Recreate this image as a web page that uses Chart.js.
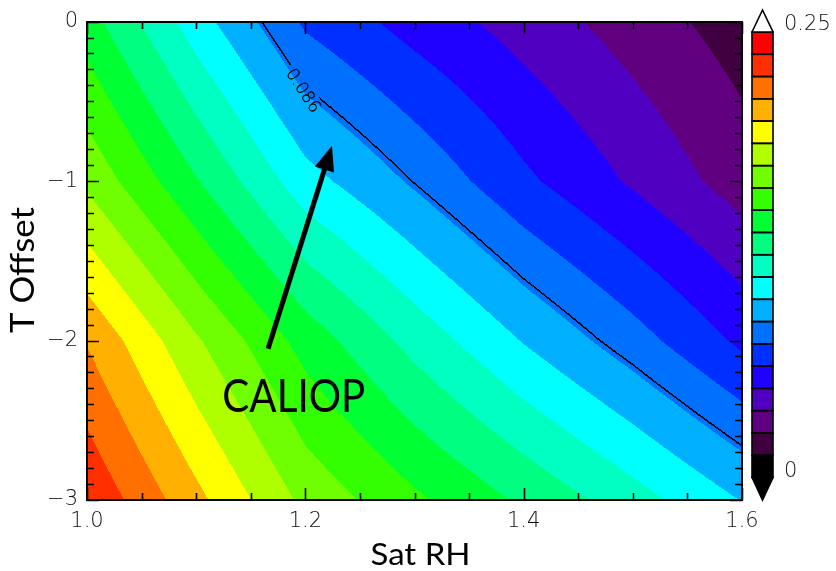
<!DOCTYPE html>
<html><head><meta charset="utf-8">
<script src="https://cdn.jsdelivr.net/npm/chart.js@4/dist/chart.umd.min.js"></script>
<style>html,body{margin:0;padding:0;background:#fff;}#wrap{width:836px;height:571px;}</style>
</head><body><div id="wrap"><canvas id="c" width="836" height="571"></canvas></div>
<script>
// ---- data ----
const satRH   = [1.0, 1.1, 1.2, 1.3, 1.4, 1.5, 1.6];          // x grid
const tOffset = [0, -1, -2, -3];                                // y grid
const rowT0   = [0.143, 0.1058, 0.0729, 0.0573, 0.0445, 0.0317, 0.0189];
const rowT1   = [0.1723, 0.1385, 0.1048, 0.0855, 0.0651, 0.0482, 0.0314];
const rowT2   = [0.2115, 0.1767, 0.1449, 0.1205, 0.0992, 0.0803, 0.0598];
const rowT3   = [0.236, 0.2036, 0.1717, 0.1525, 0.1353, 0.1179, 0.0995];
const fieldRows = [rowT0, rowT1, rowT2, rowT3];
const levels = [0, 0.0125, 0.025, 0.0375, 0.05, 0.0625, 0.075, 0.0875, 0.1, 0.1125, 0.125,
                0.1375, 0.15, 0.1625, 0.175, 0.1875, 0.2, 0.2125, 0.225, 0.2375, 0.25];
const bandColors = ['#000000','#400040','#600080','#5000c0','#2000ff','#0030ff','#0070ff','#00b0ff',
                    '#00ffff','#00ffc0','#00ff80','#00ff33','#33ff00','#70ff00','#b0ff00','#ffff00',
                    '#ffb000','#ff7000','#ff3000','#ff0000'];
const contourLevel = 0.086;
const contourLabel = '0.086';
const contourLabelPos = [1.1974, -0.4347];
const xTickLabels = [1.0, 1.2, 1.4, 1.6];
const yTickLabels = [0, -1, -2, -3];
const annotationText = 'CALIOP';
const arrowFrom = [1.1659, -2.051];
const arrowTo   = [1.2244, -0.778];
const textPos   = [1.1895, -2.45];

function hex(c){return [parseInt(c.slice(1,3),16),parseInt(c.slice(3,5),16),parseInt(c.slice(5,7),16)];}
const bandRGB = bandColors.map(hex);

function interp(xv, yv){
  let i = 0; while (i < satRH.length-2 && xv > satRH[i+1]) i++;
  let j = 0; while (j < tOffset.length-2 && yv < tOffset[j+1]) j++;
  const tx = (xv - satRH[i])/(satRH[i+1]-satRH[i]);
  const ty = (tOffset[j]-yv)/(tOffset[j]-tOffset[j+1]);
  const a = fieldRows[j], b = fieldRows[j+1];
  const top = a[i]*(1-tx)+a[i+1]*tx, bot = b[i]*(1-tx)+b[i+1]*tx;
  return top*(1-ty)+bot*ty;
}
function bandOf(v){
  if (v < levels[0]) return -1;
  if (v >= levels[levels.length-1]) return 99;
  let k = 0; while (k < levels.length-2 && v >= levels[k+1]) k++;
  return k;
}

const labelAngle = Math.atan2(93, 61);

const fieldPlugin = {
  id: 'field',
  beforeDatasetsDraw(chart){
    const {ctx, chartArea:a, scales:{x, y}} = chart;
    const L = Math.round(a.left), T = Math.round(a.top), R = Math.round(a.right), B = Math.round(a.bottom);
    const w = R-L, h = B-T;
    const vals = new Float32Array(w*h);
    for (let j=0;j<h;j++){
      const yv = y.getValueForPixel(T+j+0.5);
      for (let i=0;i<w;i++){ vals[j*w+i] = interp(x.getValueForPixel(L+i+0.5), yv); }
    }
    const img = ctx.createImageData(w, h);
    const lx = x.getPixelForValue(contourLabelPos[0]), ly = y.getPixelForValue(contourLabelPos[1]);
    const ca = Math.cos(labelAngle), sa = Math.sin(labelAngle);
    const side = v => v >= contourLevel;
    for (let j=0;j<h;j++){
      for (let i=0;i<w;i++){
        const idx = j*w+i, v = vals[idx];
        const k = bandOf(v);
        let rgb = k < 0 ? [0,0,0] : (k > 50 ? [255,255,255] : bandRGB[k]);
        const c = side(v);
        let cross = 0;
        if (i+1 < w && side(vals[idx+1]) !== c) cross = 2;
        if (j+1 < h && side(vals[idx+w]) !== c) cross = 2;
        if (!cross && ((i > 0 && side(vals[idx-1]) !== c) || (j > 0 && side(vals[idx-w]) !== c))) cross = 1;
        if (cross){
          const dx = L+i-lx, dy = T+j-ly;
          const u = dx*ca + dy*sa, vv = -dx*sa + dy*ca;
          if (!(Math.abs(u) < 29 && Math.abs(vv) < 10)) {
            rgb = cross === 2 ? [0,0,0] : rgb.map(q => Math.round(q*0.45));
          }
        }
        img.data[idx*4]=rgb[0]; img.data[idx*4+1]=rgb[1]; img.data[idx*4+2]=rgb[2]; img.data[idx*4+3]=255;
      }
    }
    ctx.putImageData(img, L, T);
  },
  afterDraw(chart){
    const {ctx, chartArea:a, scales:{x, y}} = chart;
    const L = Math.round(a.left), T = Math.round(a.top), R = Math.round(a.right), B = Math.round(a.bottom);
    ctx.save();
    // frame
    ctx.strokeStyle = '#000'; ctx.lineWidth = 2;
    ctx.strokeRect(L, T, R-L, B-T);
    // ticks
    ctx.lineWidth = 1.6;
    ctx.beginPath();
    for (let k=0;k<=12;k++){
      const v = 1.0 + k*0.05, px = Math.round(x.getPixelForValue(v))+0.5;
      const len = (k%4===0) ? 12 : 7;
      ctx.moveTo(px, B); ctx.lineTo(px, B-len);
      ctx.moveTo(px, T); ctx.lineTo(px, T+len);
    }
    for (let k=0;k<=30;k++){
      const v = -k/10, py = Math.round(y.getPixelForValue(v))+0.5;
      const len = (k%10===0) ? 12 : 7;
      ctx.moveTo(L, py); ctx.lineTo(L+len, py);
      ctx.moveTo(R, py); ctx.lineTo(R-len, py);
    }
    ctx.stroke();
    // contour label
    ctx.save();
    ctx.translate(x.getPixelForValue(contourLabelPos[0]), y.getPixelForValue(contourLabelPos[1]));
    ctx.rotate(labelAngle);
    ctx.font = '200 17px "DejaVu Sans"'; ctx.fillStyle = '#000';
    ctx.textAlign = 'center'; ctx.textBaseline = 'middle';
    ctx.fillText(contourLabel, 0, 0);
    ctx.fillText(contourLabel, 0.3, 0);
    ctx.restore();
    // arrow
    const x0 = x.getPixelForValue(arrowFrom[0]), y0 = y.getPixelForValue(arrowFrom[1]);
    const x1 = x.getPixelForValue(arrowTo[0]), y1 = y.getPixelForValue(arrowTo[1]);
    const ang = Math.atan2(y1-y0, x1-x0), hl = 25, hw = 10;
    const bx = x1 - hl*Math.cos(ang), by = y1 - hl*Math.sin(ang);
    ctx.strokeStyle = '#000'; ctx.lineWidth = 5; ctx.lineCap = 'butt';
    ctx.beginPath(); ctx.moveTo(x0, y0); ctx.lineTo(bx+2*Math.cos(ang), by+2*Math.sin(ang)); ctx.stroke();
    ctx.fillStyle = '#000';
    ctx.beginPath(); ctx.moveTo(x1, y1);
    ctx.lineTo(bx + hw*Math.sin(ang), by - hw*Math.cos(ang));
    ctx.lineTo(bx - hw*Math.sin(ang), by + hw*Math.cos(ang));
    ctx.closePath(); ctx.fill();
    // annotation text
    fitText(ctx, annotationText, x.getPixelForValue(textPos[0]), y.getPixelForValue(textPos[1]), '46px Lato', 143, 0);
    // axis titles
    fitText(ctx, 'Sat RH', (L+R)/2 + 6, 565, '31px Lato', 100, 0);
    fitText(ctx, 'T Offset', 34, 270, '33px Lato', 126, -Math.PI/2);
    // colorbar
    const cbL = 752, cbR = 773, cbTop = 32, cbBot = 477.5;
    const cy = v => cbBot - (v - levels[0])/(levels[levels.length-1]-levels[0])*(cbBot-cbTop);
    for (let k=0;k<bandColors.length;k++){
      const yA = cy(levels[k+1]), yB = cy(levels[k]);
      ctx.fillStyle = bandColors[k];
      ctx.fillRect(cbL, yA, cbR-cbL, yB-yA);
    }
    ctx.strokeStyle = '#000'; ctx.lineWidth = 1.6;
    for (let k=0;k<bandColors.length;k++){
      const yA = cy(levels[k+1]), yB = cy(levels[k]);
      ctx.strokeRect(cbL, yA, cbR-cbL, yB-yA);
    }
    ctx.fillStyle = '#fff';
    ctx.beginPath(); ctx.moveTo(cbL, cbTop); ctx.lineTo((cbL+cbR)/2, cbTop-22); ctx.lineTo(cbR, cbTop); ctx.closePath();
    ctx.fill(); ctx.stroke();
    ctx.fillStyle = '#000';
    ctx.beginPath(); ctx.moveTo(cbL, cbBot); ctx.lineTo((cbL+cbR)/2, cbBot+22.5); ctx.lineTo(cbR, cbBot); ctx.closePath();
    ctx.fill(); ctx.stroke();
    ctx.font = '200 21px "DejaVu Sans"'; ctx.fillStyle = '#111';
    ctx.textAlign = 'left'; ctx.textBaseline = 'middle';
    ctx.fillText(String(levels[levels.length-1]), 784, 25);
    ctx.fillText(String(levels[0]), 784, 472);
    ctx.restore();
  }
};

function fitText(ctx, text, cx, cy, font, targetW, rot){
  ctx.save();
  ctx.font = font; ctx.fillStyle = '#000';
  const m = ctx.measureText(text).width;
  ctx.translate(cx, cy); if (rot) ctx.rotate(rot);
  ctx.scale(targetW/m, 1);
  ctx.textAlign = 'center'; ctx.textBaseline = 'alphabetic';
  ctx.fillText(text, 0, 0);
  ctx.restore();
}

const tickFont = {family: 'DejaVu Sans', size: 21, weight: '200'};
new Chart(document.getElementById('c'), {
  type: 'scatter',
  data: { datasets: [{ data: [], showLine: false }] },
  options: {
    responsive: false, animation: false, events: [],
    layout: { padding: { left: 0, right: 94, top: 10, bottom: 0 } },
    plugins: { legend: { display: false }, tooltip: { enabled: false } },
    scales: {
      x: {
        type: 'linear', min: satRH[0], max: satRH[satRH.length-1],
        grid: { display: false, drawTicks: false }, border: { display: false },
        afterBuildTicks: s => { s.ticks = xTickLabels.map(v => ({ value: v })); },
        ticks: { callback: v => v.toFixed(1), font: tickFont, color: '#111', padding: 9, maxRotation: 0 },
        afterFit: s => { s.height = 71; }
      },
      y: {
        type: 'linear', min: tOffset[tOffset.length-1], max: tOffset[0],
        grid: { display: false, drawTicks: false }, border: { display: false },
        afterBuildTicks: s => { s.ticks = yTickLabels.map(v => ({ value: v })); },
        ticks: { callback: v => (v < 0 ? '\u2212' + Math.abs(v) : String(v)), font: tickFont, color: '#111', padding: 9 },
        afterFit: s => { s.width = 87; }
      }
    }
  },
  plugins: [fieldPlugin]
});
</script>
</body></html>
